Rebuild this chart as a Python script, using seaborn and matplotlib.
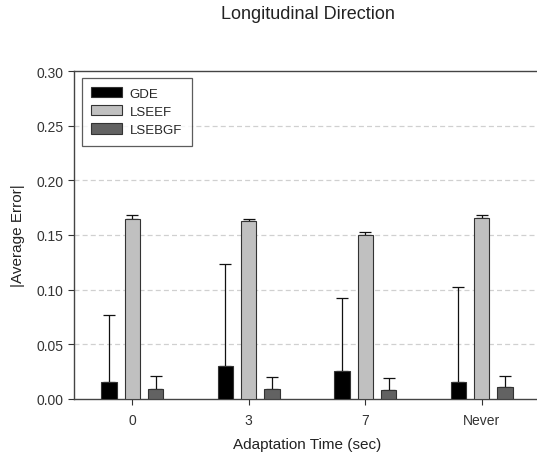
import matplotlib
matplotlib.use("Agg")
import matplotlib.pyplot as plt
import seaborn as sns
import pandas as pd
import numpy as np

categories = ["0", "3", "7", "Never"]
series = ["GDE", "LSEEF", "LSEBGF"]
gde = [0.016, 0.030, 0.026, 0.016]
gde_err = [0.061, 0.0935, 0.066, 0.0867]
lseef = [0.165, 0.163, 0.150, 0.166]
lseef_err = [0.003, 0.002, 0.003, 0.002]
lsebgf = [0.009, 0.0095, 0.008, 0.011]
lsebgf_err = [0.012, 0.0105, 0.011, 0.010]

colors = {"GDE": "#000000", "LSEEF": "#c0c0c0", "LSEBGF": "#626262"}
errs = {"GDE": gde_err, "LSEEF": lseef_err, "LSEBGF": lsebgf_err}

rows = []
for s, vals in [("GDE", gde), ("LSEEF", lseef), ("LSEBGF", lsebgf)]:
    for c, v in zip(categories, vals):
        rows.append({"time": c, "series": s, "value": v})
df = pd.DataFrame(rows)

sns.set_style("white")
plt.rcParams["font.family"] = ["Liberation Sans", "DejaVu Sans"]

fig = plt.figure(figsize=(5.37, 4.60), dpi=100)
ax = fig.add_axes([74 / 537, 60 / 460, 466 / 537, 328 / 460])

sns.barplot(data=df, x="time", y="value", hue="series", order=categories,
            hue_order=series, palette=colors, width=0.6, gap=0.35,
            errorbar=None, edgecolor="#333333", linewidth=0.8, ax=ax, zorder=3)

# upper-only error bars at the bar positions, one container per series
for s, cont in zip(series, ax.containers):
    for patch, e in zip(cont.patches, errs[s]):
        h = patch.get_height()
        xc = patch.get_x() + patch.get_width() / 2
        ax.errorbar(xc, h, yerr=[[0], [e]], fmt="none", ecolor="#111111",
                    elinewidth=0.9, capsize=4, capthick=0.9, zorder=2)

ax.set_ylim(0, 0.30)
ax.set_xlim(-0.5, 3.5)
ax.set_yticks([0, 0.05, 0.10, 0.15, 0.20, 0.25, 0.30])
ax.set_yticklabels(["0.00", "0.05", "0.10", "0.15", "0.20", "0.25", "0.30"])
for y in [0.05, 0.10, 0.15, 0.20, 0.25]:
    ax.axhline(y, color="#d0d0d0", linestyle=(0, (4, 2.5)), linewidth=0.9, zorder=0)

ax.tick_params(axis="both", which="major", direction="out", length=4, width=0.8,
               color="#333333", labelsize=10, labelcolor="#333333", left=True, bottom=True)
ax.tick_params(axis="x", pad=6)
for side in ["left", "bottom", "top"]:
    ax.spines[side].set_visible(True)
    ax.spines[side].set_color("#444444")
    ax.spines[side].set_linewidth(1.0)
ax.spines["right"].set_visible(False)

ax.set_xlabel("Adaptation Time (sec)", fontsize=11, color="#222222", labelpad=7)
ax.set_ylabel("|Average Error|", fontsize=11, color="#222222", labelpad=8)
fig.text(0.574, 0.968, "Longitudinal Direction", ha="center", va="center",
         fontsize=13, color="#222222")

leg = ax.legend(loc="upper left", bbox_to_anchor=(0.017, 0.98), borderaxespad=0,
                fontsize=9.5, frameon=True, fancybox=False, edgecolor="#333333",
                handlelength=2.35, handleheight=0.8, borderpad=0.72,
                labelspacing=0.42, handletextpad=0.55, title=None)
leg.get_frame().set_linewidth(0.9)

fig.savefig("out.png", dpi=100)
